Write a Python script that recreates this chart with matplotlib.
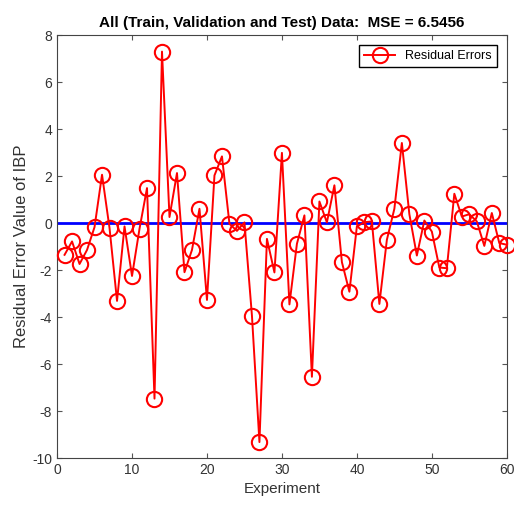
import numpy as np
import matplotlib.pyplot as plt

plt.rcParams['font.family'] = ['Liberation Sans', 'DejaVu Sans']
plt.rcParams['axes.unicode_minus'] = False

experiment = np.arange(1, 61)
residuals = [-1.35, -0.78, -1.74, -1.14, -0.17, 2.06, -0.21, -3.31, -0.14, -2.25,
             -0.24, 1.49, -7.47, 7.30, 0.26, 2.13, -2.09, -1.14, 0.61, -3.27,
             2.03, 2.84, -0.03, -0.33, 0.03, -3.94, -9.32, -0.67, -2.10, 2.99,
             -3.46, -0.88, 0.33, -6.54, 0.92, 0.03, 1.61, -1.66, -2.92, -0.14,
             0.04, 0.07, -3.44, -0.71, 0.61, 3.41, 0.38, -1.38, 0.11, -0.36,
             -1.89, -1.92, 1.25, 0.28, 0.38, 0.07, -0.97, 0.43, -0.85, -0.92]
mse = 6.5456

fig = plt.figure(figsize=(5.14, 5.17), dpi=100)
ax = fig.add_axes([0.111, 0.114, 0.875, 0.818])

ax.plot(experiment, residuals, color='red', linewidth=1.4, marker='o',
        markersize=11, markerfacecolor='none', markeredgewidth=1.5,
        label='Residual Errors', clip_on=False, zorder=3)
ax.axhline(0, color='blue', linewidth=2)

ax.set_xlim(0, 60)
ax.set_ylim(-10, 8)
ax.set_xticks(range(0, 61, 10))
ax.set_yticks(range(-10, 9, 2))
ax.tick_params(direction='in', top=True, right=True, labelsize=10,
               labelcolor='#333333', color='#555555')
for s in ax.spines.values():
    s.set_color('#444444')

ax.set_title('All (Train, Validation and Test) Data:  MSE = %.4f' % mse,
             fontsize=11, fontweight='bold')
ax.set_xlabel('Experiment', fontsize=11, color='#333333')
ax.set_ylabel('Residual Error Value of IBP', fontsize=12, color='#333333',
              labelpad=2)

leg = ax.legend(loc='upper right', fontsize=9, fancybox=False, framealpha=1,
                edgecolor='black', handlelength=2.5, borderaxespad=0.8)
leg.get_frame().set_linewidth(1)

fig.savefig('out.png', dpi=100)
